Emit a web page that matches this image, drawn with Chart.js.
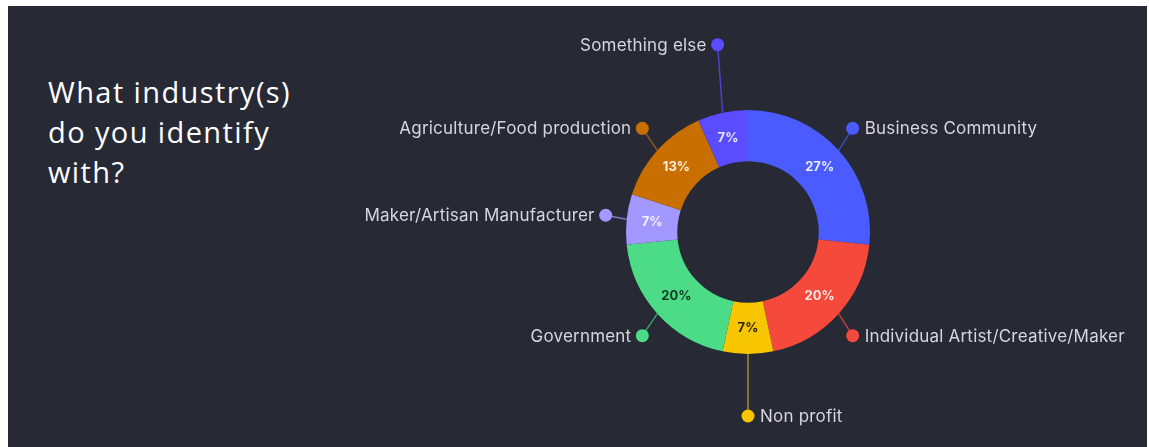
<!DOCTYPE html>
<html>
<head>
<meta charset="utf-8">
<script src="https://cdn.jsdelivr.net/npm/chart.js@4"></script>
<style>
  html, body { margin: 0; padding: 0; background: #fff; }
  #panel { position: absolute; left: 8px; top: 6px; width: 1139px; height: 441px; background: #272935; }
  #title { position: absolute; left: 48px; top: 72px; color: #fff; font-family: "Open Sans", sans-serif; font-size: 29px; line-height: 40px; letter-spacing: 1.4px; }
  #myChart { position: absolute; left: 0; top: 0; }
</style>
</head>
<body>
<div id="panel"></div>
<div id="title">What industry(s)<br>do you identify<br>with?</div>
<canvas id="myChart" width="1149" height="447"></canvas>
<script>
// answers per industry (15 responses)
var categories = ['Business Community', 'Individual Artist/Creative/Maker', 'Non profit', 'Government',
    'Maker/Artisan Manufacturer', 'Agriculture/Food production', 'Something else'];
var responses = [4, 3, 1, 3, 1, 2, 1];

var colors = ['#4a5bff', '#f4493b', '#f7c600', '#4cdc88', '#a398ff', '#c96f00', '#5a4cff'];
var pctColors = ['#e8eaff', '#ffe6e2', '#2e2600', '#0f3a1e', '#f2f0ff', '#fff0e0', '#e8e6ff'];
var lineColors = ['#3d4bb8', '#b8443a', '#a48a3a', '#3aa06a', '#7d76c2', '#8a5a22', '#4a44c8'];
// leader line end (dot) relative to the arc's outer middle point
var leaderOffsets = [[14, -22], [14, 22], [0, 62], [-15, 22], [-21, -4], [-15, -22], [-5, -68]];

var labelsPlugin = {
    id: 'outLabels',
    afterDatasetsDraw: function(chart) {
        var c = chart.ctx;
        var meta = chart.getDatasetMeta(0);
        var total = responses.reduce(function(a, b) { return a + b; }, 0);
        meta.data.forEach(function(arc, i) {
            var p = arc.getProps(['x', 'y', 'startAngle', 'endAngle', 'outerRadius'], true);
            var mid = (p.startAngle + p.endAngle) / 2;
            var ex = p.x + Math.cos(mid) * p.outerRadius;
            var ey = p.y + Math.sin(mid) * p.outerRadius;
            var dx = ex + leaderOffsets[i][0];
            var dy = ey + leaderOffsets[i][1];

            // percentage inside the slice
            var tp = arc.tooltipPosition();
            c.save();
            c.font = 'bold 13px Inter, sans-serif';
            c.fillStyle = pctColors[i];
            c.textAlign = 'center';
            c.textBaseline = 'middle';
            c.fillText(Math.round(responses[i] / total * 100) + '%', tp.x, tp.y);

            // leader line + dot
            c.strokeStyle = lineColors[i];
            c.lineWidth = 1.5;
            c.beginPath();
            c.moveTo(ex, ey);
            c.lineTo(dx, dy);
            c.stroke();
            c.fillStyle = colors[i];
            c.beginPath();
            c.arc(dx, dy, 6.5, 0, Math.PI * 2);
            c.fill();

            // category text
            c.font = '17px Inter, sans-serif';
            c.letterSpacing = '0.2px';
            c.fillStyle = '#d6d6dc';
            var right = leaderOffsets[i][0] >= 0;
            c.textAlign = right ? 'left' : 'right';
            c.fillText(categories[i], right ? dx + 12 : dx - 11, dy + 1);
            c.restore();
        });
    }
};

const ctx = document.getElementById('myChart');
var graphData = {
    type: 'doughnut',
    data: {
        labels: categories,
        datasets: [{
            data: responses,
            backgroundColor: colors,
            borderWidth: 0,
            hoverOffset: 0
        }]
    },
    options: {
        responsive: false,
        animation: false,
        devicePixelRatio: 1,
        cutout: '58%',
        layout: { padding: { left: 626, right: 279, top: 110, bottom: 93 } },
        plugins: { legend: { display: false }, tooltip: { enabled: false } }
    },
    plugins: [labelsPlugin]
};
var myChart = new Chart(ctx, graphData);
</script>
</body>
</html>
